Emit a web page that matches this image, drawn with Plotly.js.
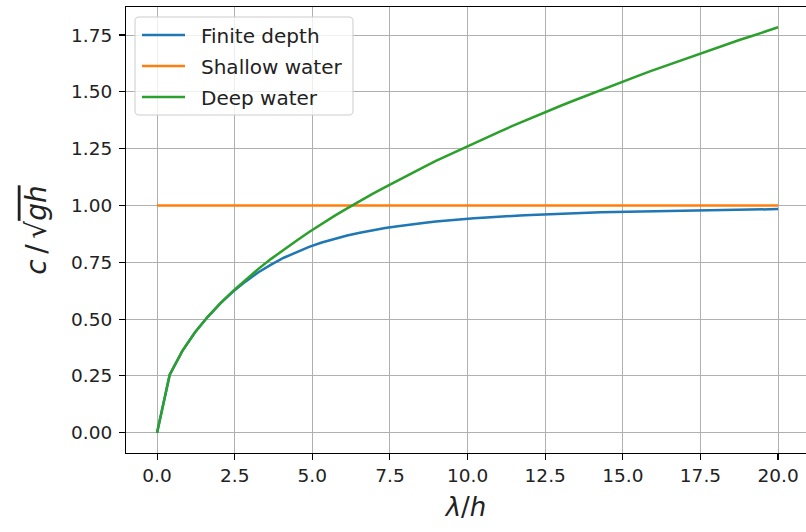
<!DOCTYPE html>
<html>
<head>
<meta charset="utf-8">
<script src="https://cdn.plot.ly/plotly-3.0.1.min.js"></script>
<style>html,body{margin:0;padding:0;background:#fff;}#chart{width:806px;height:532px;}</style>
</head>
<body>
<div id="chart"></div>
<script>
// wavelength / depth
var lambdaOverH = [0, 0.408, 0.816, 1.224, 1.633, 2.041, 2.449, 2.857, 3.265, 3.673,
  4.082, 4.490, 4.898, 5.306, 5.714, 6.122, 6.531, 6.939, 7.347, 7.755,
  8.163, 8.571, 8.980, 9.388, 9.796, 10.204, 10.612, 11.020, 11.429, 11.837,
  12.245, 12.653, 13.061, 13.469, 13.878, 14.286, 14.694, 15.102, 15.510, 15.918,
  16.327, 16.735, 17.143, 17.551, 17.959, 18.367, 18.776, 19.184, 19.592, 20.0];
var finiteDepth = [0, 0.255, 0.360, 0.442, 0.510, 0.569, 0.621, 0.666, 0.706, 0.740,
  0.770, 0.795, 0.818, 0.837, 0.853, 0.868, 0.880, 0.891, 0.901, 0.909,
  0.917, 0.923, 0.929, 0.935, 0.939, 0.944, 0.947, 0.951, 0.954, 0.957,
  0.959, 0.962, 0.964, 0.966, 0.968, 0.970, 0.971, 0.973, 0.974, 0.975,
  0.976, 0.978, 0.979, 0.980, 0.980, 0.981, 0.982, 0.983, 0.983, 0.984];
var deepWater = [0, 0.255, 0.360, 0.442, 0.510, 0.570, 0.624, 0.674, 0.721, 0.765,
  0.806, 0.845, 0.883, 0.919, 0.954, 0.987, 1.020, 1.051, 1.081, 1.111,
  1.140, 1.168, 1.196, 1.222, 1.249, 1.274, 1.300, 1.324, 1.349, 1.373,
  1.396, 1.419, 1.442, 1.464, 1.486, 1.508, 1.529, 1.550, 1.571, 1.592,
  1.612, 1.632, 1.652, 1.671, 1.691, 1.710, 1.729, 1.747, 1.766, 1.784];
var shallowX = [0, 20];
var shallowWater = [1, 1];
var seriesNames = ["Finite depth", "Shallow water", "Deep water"];
var seriesColors = ["#1f77b4", "#ff7f0e", "#2ca02c"];

var font = "DejaVu Sans, sans-serif";
var W = 806, H = 532, ML = 126, MR = 0, MT = 7, MB = 79;
var PW = W - ML - MR, PH = H - MT - MB;
function px(x) { return (x - ML) / PW; }
function py(y) { return (H - MB - y) / PH; }

var traces = [
  {x: lambdaOverH, y: finiteDepth, name: seriesNames[0]},
  {x: shallowX, y: shallowWater, name: seriesNames[1]},
  {x: lambdaOverH, y: deepWater, name: seriesNames[2]}
].map(function (t, i) {
  t.type = "scatter"; t.mode = "lines";
  t.line = {color: seriesColors[i], width: 2.5};
  t.showlegend = false;
  return t;
});

// legend box (matplotlib-like, rounded corners)
var bx0 = 135, bx1 = 353, by0 = 17, by1 = 115, r = 4;
function P(x, y) { return px(x).toFixed(5) + "," + py(y).toFixed(5); }
var boxPath = "M" + P(bx0 + r, by0) + " L" + P(bx1 - r, by0) + " Q" + P(bx1, by0) + " " + P(bx1, by0 + r) +
  " L" + P(bx1, by1 - r) + " Q" + P(bx1, by1) + " " + P(bx1 - r, by1) +
  " L" + P(bx0 + r, by1) + " Q" + P(bx0, by1) + " " + P(bx0, by1 - r) +
  " L" + P(bx0, by0 + r) + " Q" + P(bx0, by0) + " " + P(bx0 + r, by0) + " Z";
var shapes = [{
  type: "path", xref: "paper", yref: "paper", path: boxPath,
  fillcolor: "rgba(255,255,255,0.8)", line: {color: "#cccccc", width: 1}, layer: "above"
}];
var annotations = [];
var rowY = [35, 66, 97];
seriesNames.forEach(function (n, i) {
  shapes.push({
    type: "line", xref: "paper", yref: "paper",
    x0: px(142), x1: px(185), y0: py(rowY[i]), y1: py(rowY[i]),
    line: {color: seriesColors[i], width: 2.5}, layer: "above"
  });
  annotations.push({
    xref: "paper", yref: "paper", x: px(199), y: py(rowY[i] + 1),
    xanchor: "left", yanchor: "middle", showarrow: false, text: n,
    font: {family: font, size: 20, color: "#222"}
  });
});

var axisCommon = {
  showgrid: true, gridcolor: "#b0b0b0", gridwidth: 1, zeroline: false,
  showline: true, linecolor: "#000", linewidth: 1.1,
  ticks: "outside", ticklen: 6, tickwidth: 1.1, tickcolor: "#000",
  tickfont: {family: font, size: 18.5, color: "#222"}
};

var layout = {
  width: W, height: H,
  margin: {l: ML, r: MR, t: MT, b: MB, pad: 0},
  paper_bgcolor: "#fff", plot_bgcolor: "#fff",
  showlegend: false,
  shapes: shapes,
  annotations: annotations,
  xaxis: Object.assign({}, axisCommon, {
    range: [-1, 20.9], tick0: 0, dtick: 2.5, tickformat: ".1f", mirror: true,
    title: {text: "<i>λ</i>/<i>h</i>", font: {family: font, size: 26, color: "#222"}, standoff: 12}
  }),
  yaxis: Object.assign({}, axisCommon, {
    range: [-0.0892, 1.8733], tick0: 0, dtick: 0.25, tickformat: ".2f",
    ticklabelstandoff: 3,
    title: {text: "<i>c</i>\u2009/\u2009√<span style=\"text-decoration:overline\"><i>gh</i></span>", font: {family: font, size: 28, color: "#222"}, standoff: 16}
  })
};

Plotly.newPlot("chart", traces, layout, {displayModeBar: false, staticPlot: true});
</script>
</body>
</html>
